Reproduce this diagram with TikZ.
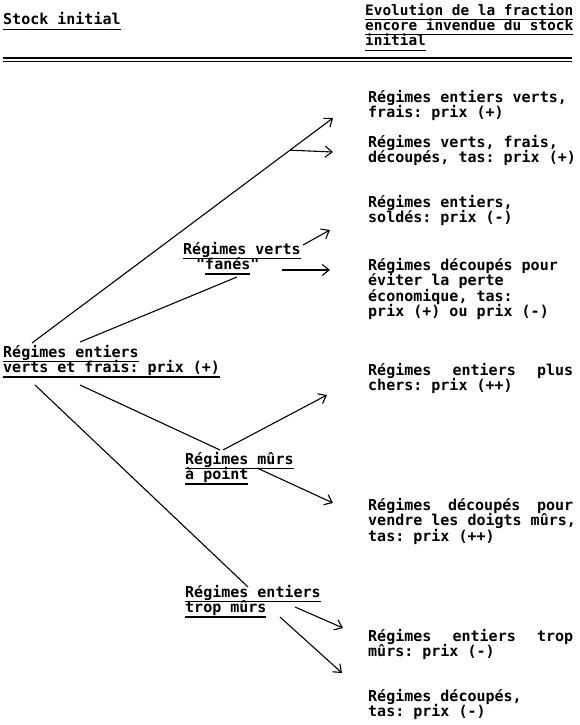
\documentclass[tikz,border=0pt]{standalone}
\usepackage{fontspec}
\setmonofont{DejaVu Sans Mono}[BoldFont={DejaVu Sans Mono Bold}]
\usetikzlibrary{arrows.meta}
% underlined line, smashed so that line spacing stays even
\newcommand\ulin[1]{\smash{\vtop{\hbox{#1\vphantom{g}}\kern0.6pt\hrule height 1.3pt}}}
\newcommand\justline[1]{\hbox to 205pt{#1}}
\begin{document}
\begin{tikzpicture}[x=1pt, y=-1pt,
    txt/.style = {font=\ttfamily\bfseries\fontsize{15}{15.5}\selectfont, inner sep=0pt, anchor=base west, align=left},
    link/.style = {line width=1.1pt},
    arr/.style = {link, -{Straight Barb[length=7pt,width=11pt]}}]
    \useasboundingbox (0,0) rectangle (579,725);
    % Headers (nodes placed at the baseline of their last line)
    \node[txt] (stock) at (3,25) {\ulin{Stock initial}};
    \node[txt, font=\ttfamily\bfseries\fontsize{14.4}{15.5}\selectfont] (evol) at (365,46) {\ulin{Evolution de la fraction}\\ \ulin{encore invendue du stock}\\ \ulin{initial}};
    \draw[line width=1.6pt] (3,58) -- (572,58);
    \draw[line width=1pt] (3,61.5) -- (572,61.5);

    % Stocks
    \node[txt] (vf) at (3,372.5) {\ulin{Régimes entiers}\\ \ulin{verts et frais: prix (+)}};
    \node[txt] (fa) at (183,269.5) {\ulin{Régimes verts}\\ \hspace*{13pt}"\ulin{fanés}"};
    \node[txt] (mu) at (185,479.5) {\ulin{Régimes mûrs}\\ \ulin{à point}};
    \node[txt] (tm) at (185,612.5) {\ulin{Régimes entiers}\\ \ulin{trop mûrs}};

    % Outcomes
    \node[txt] (r1) at (368,117.5) {Régimes entiers verts,\\ frais: prix (+)};
    \node[txt] (r2) at (368,162.5) {Régimes verts, frais,\\ découpés, tas: prix (+)};
    \node[txt] (r3) at (368,222.5) {Régimes entiers,\\ soldés: prix (-)};
    \node[txt] (r4) at (368,316.5) {Régimes découpés pour\\ éviter la perte\\ économique, tas:\\ prix (+) ou prix (-)};
    \node[txt] (r5) at (368,390.5) {\justline{Régimes\hfill entiers\hfill plus}\\ chers: prix (++)};
    \node[txt] (r6) at (368,541) {\justline{Régimes\hfill découpés\hfill pour}\\ vendre les doigts mûrs,\\ tas: prix (++)};
    \node[txt] (r7) at (368,656.5) {\justline{Régimes\hfill entiers\hfill trop}\\ mûrs: prix (-)};
    \node[txt] (r8) at (368,716.5) {Régimes découpés,\\ tas: prix (-)};

    % Arrow tips
    \coordinate (t1) at (333,118);
    \coordinate (t2) at (333,152);
    \coordinate (t3) at (330,230);
    \coordinate (t4) at (330,270);
    \coordinate (t5) at (327,395);
    \coordinate (t6) at (333,503);
    \coordinate (t7) at (343,628);
    \coordinate (t8) at (342,673);

    % Connectors
    \draw[arr] ([xshift=29pt,yshift=29.5pt]vf.base west) -- coordinate[pos=0.857] (b1) (t1);
    \draw[arr] (b1) -- (t2);
    \draw[link] ([xshift=77pt,yshift=30.5pt]vf.base west) -- ([xshift=54pt,yshift=-7.5pt]fa.base west);
    \draw[arr] ([xshift=120pt,yshift=24.5pt]fa.base west) -- (t3);
    \draw[arr] ([xshift=99pt,yshift=-0.5pt]fa.base west) -- (t4);
    \draw[link] ([xshift=32pt,yshift=-12.5pt]vf.base west) -- ([xshift=63pt,yshift=25.5pt]tm.base west);
    \draw[link] ([xshift=77pt,yshift=-12.5pt]vf.base west) -- ([xshift=35pt,yshift=29.5pt]mu.base west);
    \draw[arr] ([xshift=38pt,yshift=29.5pt]mu.base west) -- (t5);
    \draw[arr] ([xshift=72pt,yshift=11.5pt]mu.base west) -- (t6);
    \draw[arr] ([xshift=110pt,yshift=5.5pt]tm.base west) -- (t7);
    \draw[arr] ([xshift=95pt,yshift=-4.5pt]tm.base west) -- (t8);
\end{tikzpicture}
\end{document}
